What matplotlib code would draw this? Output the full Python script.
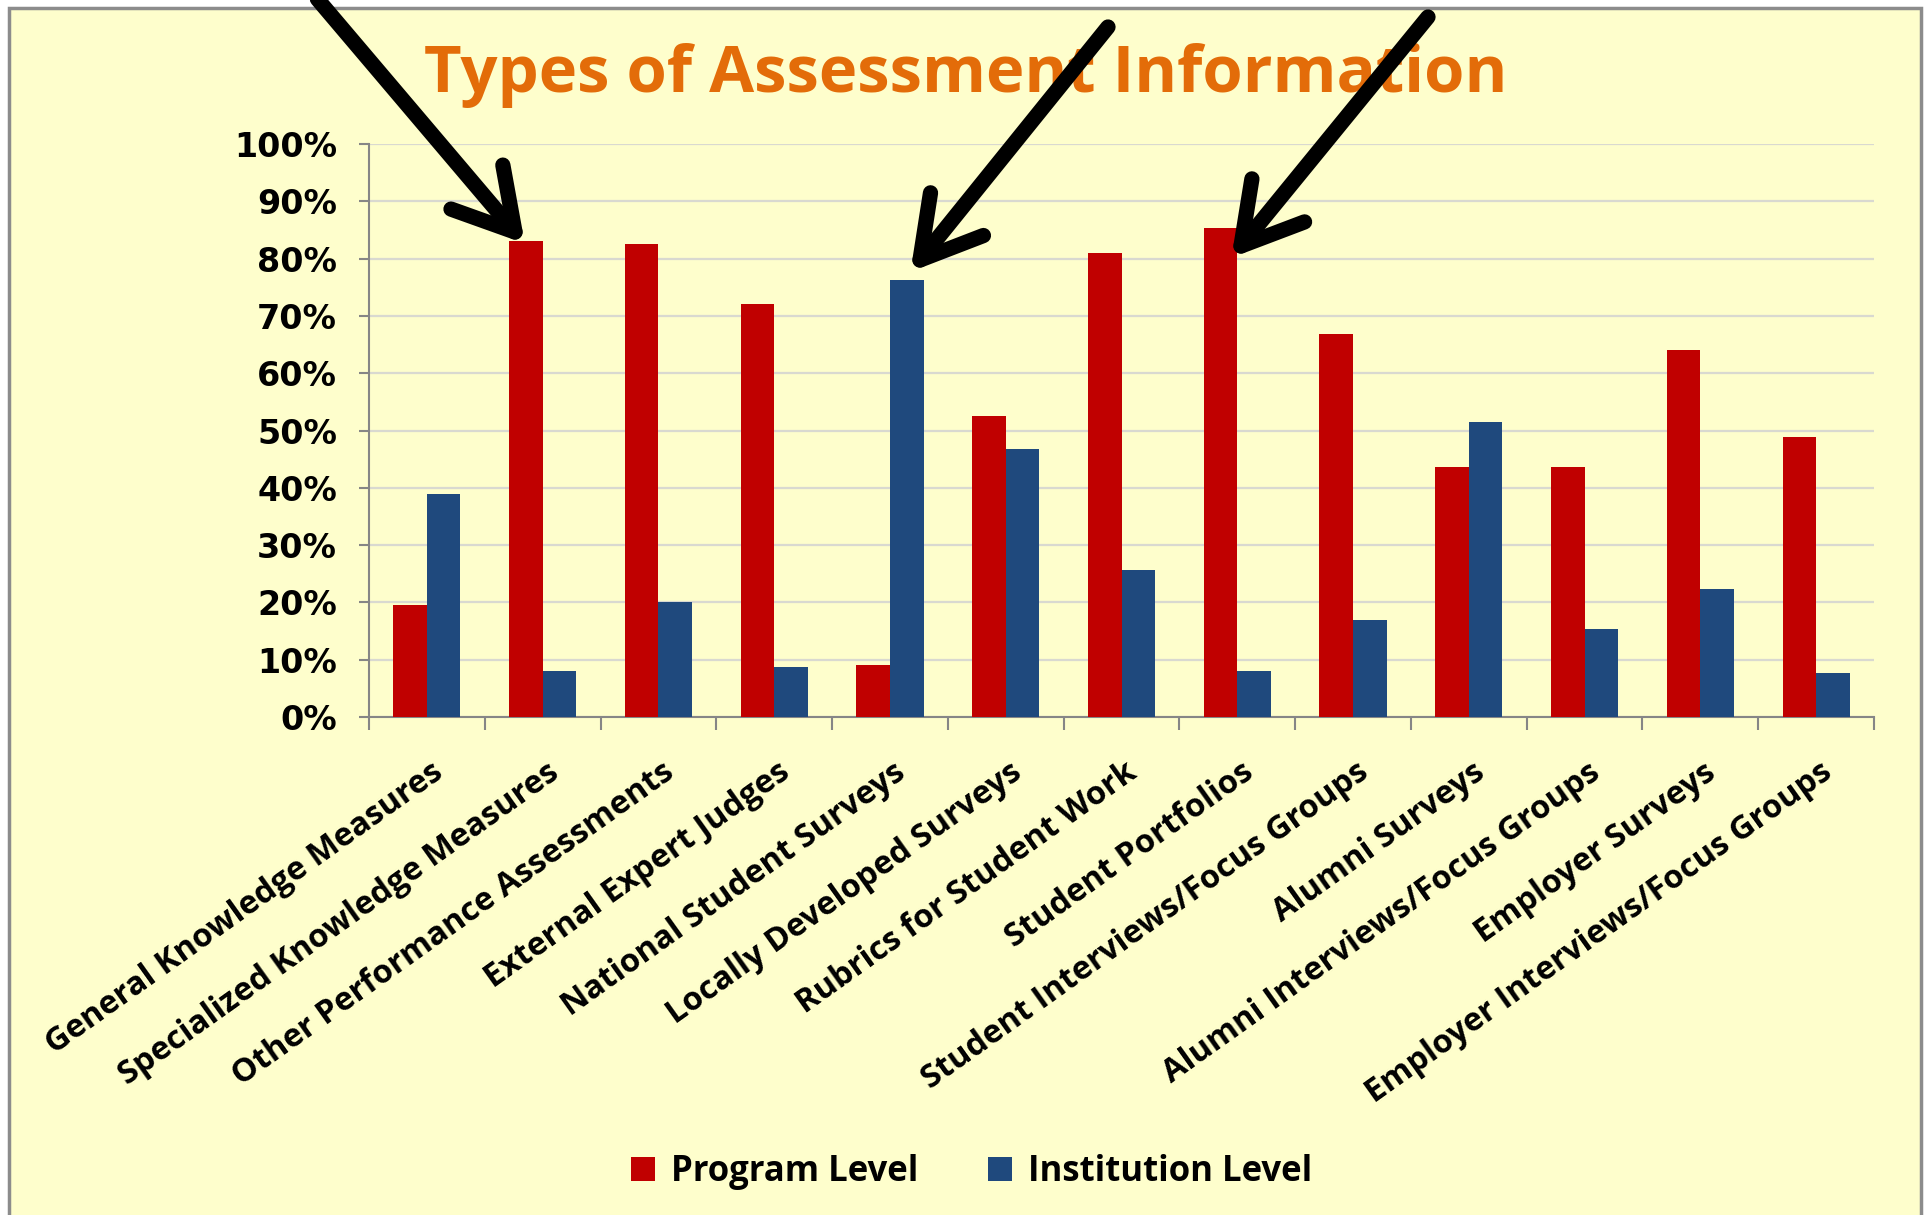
import numpy as np
import matplotlib
matplotlib.use("Agg")
import matplotlib.pyplot as plt
from matplotlib.patches import Rectangle, Patch
from matplotlib.lines import Line2D
from matplotlib.transforms import ScaledTranslation

categories = [
    "General Knowledge Measures",
    "Specialized Knowledge Measures",
    "Other Performance Assessments",
    "External Expert Judges",
    "National Student Surveys",
    "Locally Developed Surveys",
    "Rubrics for Student Work",
    "Student Portfolios",
    "Student Interviews/Focus Groups",
    "Alumni Surveys",
    "Alumni Interviews/Focus Groups",
    "Employer Surveys",
    "Employer Interviews/Focus Groups",
]
program_level = [19.6, 83.0, 82.6, 72.0, 9.0, 52.5, 80.9, 85.4, 66.9, 43.7, 43.7, 64.1, 48.8]
institution_level = [38.9, 8.0, 20.0, 8.8, 76.3, 46.7, 25.6, 8.0, 17.0, 51.4, 15.3, 22.4, 7.7]
series_names = ["Program Level", "Institution Level"]
y_ticks = list(range(0, 101, 10))

RED = "#C00000"
BLUE = "#1F497D"
BG = "#FEFECC"
W, H = 1931, 1215

fig = plt.figure(figsize=(W / 100, H / 100), dpi=100)
fig.patch.set_facecolor("white")

# pixel (from top-left) -> figure fraction
def fx(px):
    return px / W

def fy(py):
    return 1 - py / H

# slide-like yellow panel with grey frame
fig.add_artist(Rectangle((fx(9), fy(1230)), fx(1921) - fx(9), fy(8) - fy(1230),
                         transform=fig.transFigure, facecolor=BG,
                         edgecolor="#8C8C8C", lw=2.5, zorder=0))

ax = fig.add_axes([fx(369), fy(717), fx(1874) - fx(369), fy(144) - fy(717)])
ax.set_facecolor("none")

x = np.arange(len(categories))
bw = 0.29
ax.bar(x - bw / 2, program_level, bw, color=RED, label=series_names[0], zorder=3)
ax.bar(x + bw / 2, institution_level, bw, color=BLUE, label=series_names[1], zorder=3)

ax.set_xlim(-0.5, len(categories) - 0.5)
ax.set_ylim(0, 100)
ax.set_yticks(y_ticks)
ax.set_yticklabels([f"{v}%" for v in y_ticks], fontfamily="DejaVu Sans",
                   fontweight="bold", fontsize=24)
ax.yaxis.grid(True, color="#D9D9D0", lw=1.6, zorder=0)
ax.tick_params(axis="y", length=7, width=1.5, color="#868686", pad=16)

# boundaries get ticks, centres get the labels
ax.set_xticks(np.arange(len(categories) + 1) - 0.5)
ax.set_xticklabels([])
ax.tick_params(axis="x", which="major", length=9, width=1.5, color="#868686",
               direction="out")
ax.set_xticks(x, minor=True)
ax.set_xticklabels(categories, minor=True, rotation=35.5, ha="right", va="top",
                   rotation_mode="anchor", fontfamily="Open Sans",
                   fontweight="bold", fontsize=23.5)
ax.tick_params(axis="x", which="minor", length=0, pad=28)
for lab in ax.get_xticklabels(minor=True):
    lab.set_transform(lab.get_transform() + ScaledTranslation(0.03, 0, fig.dpi_scale_trans))

for s in ["top", "right"]:
    ax.spines[s].set_visible(False)
for s in ["left", "bottom"]:
    ax.spines[s].set_color("#868686")
    ax.spines[s].set_linewidth(1.5)

fig.text(0.5, fy(75), "Types of Assessment Information", ha="center", va="center",
         color="#E36C09", fontfamily="Open Sans", fontweight="bold", fontsize=47)

handles = [Patch(facecolor=RED), Patch(facecolor=BLUE)]
fig.legend(handles, series_names, loc="center", bbox_to_anchor=(0.503, fy(1172)),
           ncol=2, frameon=False, handlelength=0.7, handleheight=0.7,
           handletextpad=0.45, columnspacing=2.0,
           prop={"family": "Open Sans", "weight": "bold", "size": 25})

# cut-off glyph above the panel
fig.text(fx(841), 1 + 19 / H, "g", ha="center", va="baseline", fontsize=60,
         fontweight="bold", color="black", zorder=5)

# hand-drawn black pointer arrows
def arrow(x0, y0, x1, y1, wing=68, half=30):
    d = np.array([x1 - x0, y1 - y0], float)
    d /= np.hypot(*d)
    back = -d
    pts = []
    for a in (half, -half):
        r = np.radians(a)
        rot = np.array([[np.cos(r), -np.sin(r)], [np.sin(r), np.cos(r)]])
        pts.append(np.array([x1, y1]) + wing * rot @ back)
    kw = dict(transform=fig.transFigure, color="black", lw=11,
              solid_capstyle="round", solid_joinstyle="round", zorder=10)
    fig.add_artist(Line2D([fx(x0), fx(x1)], [fy(y0), fy(y1)], **kw))
    fig.add_artist(Line2D([fx(pts[0][0]), fx(x1), fx(pts[1][0])],
                          [fy(pts[0][1]), fy(y1), fy(pts[1][1])], **kw))

arrow(314, -5, 515, 232)
arrow(1108, 27, 920, 260)
arrow(1428, 17, 1241, 246)

fig.savefig("out.png", dpi=100)
